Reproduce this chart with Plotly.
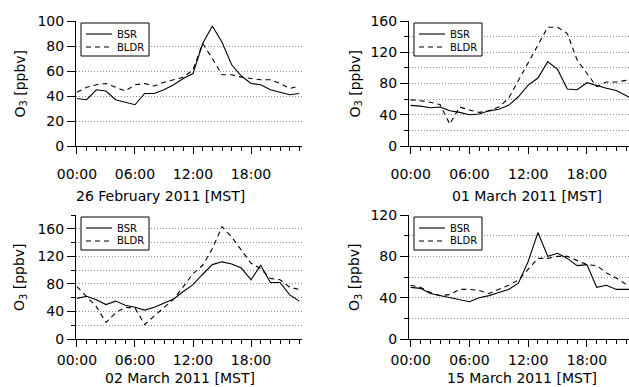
import plotly.graph_objects as go

hours = list(range(24))
tick_vals = [0, 6, 12, 18]
tick_text = ["00:00", "06:00", "12:00", "18:00"]

dates = ["26 February 2011 [MST]", "01 March 2011 [MST]",
         "02 March 2011 [MST]", "15 March 2011 [MST]"]
series_names = ["BSR", "BLDR"]

bsr_feb26 = [38, 37, 45, 44, 37, 35, 33, 42, 42, 45, 49, 54, 58, 82, 96, 83, 65, 56, 50, 49, 45, 43, 41, 42]
bldr_feb26 = [43, 47, 49, 50, 47, 44, 49, 50, 48, 51, 53, 55, 61, 82, 70, 57, 57, 55, 54, 53, 53, 50, 46, 48]

bsr_mar01 = [52, 51, 49, 50, 45, 43, 40, 41, 45, 47, 52, 63, 78, 87, 108, 98, 73, 72, 81, 77, 74, 71, 64, 58]
bldr_mar01 = [59, 58, 56, 53, 28, 50, 46, 43, 45, 50, 61, 84, 106, 129, 152, 152, 144, 110, 93, 76, 82, 82, 84, 86]

bsr_mar02 = [59, 62, 57, 50, 55, 49, 46, 42, 46, 52, 58, 69, 79, 94, 108, 112, 109, 103, 86, 107, 82, 82, 64, 55]
bldr_mar02 = [76, 62, 47, 24, 38, 46, 45, 21, 33, 46, 58, 76, 95, 107, 131, 163, 148, 129, 110, 102, 88, 86, 75, 72]

bsr_mar15 = [50, 49, 44, 42, 40, 38, 36, 40, 42, 45, 48, 54, 75, 103, 80, 83, 78, 71, 72, 50, 52, 48, 48, 48]
bldr_mar15 = [52, 50, 45, 42, 43, 48, 48, 47, 44, 48, 52, 57, 67, 78, 78, 80, 80, 76, 72, 71, 64, 59, 53, 50]

series = [(bsr_feb26, bldr_feb26), (bsr_mar01, bldr_mar01),
          (bsr_mar02, bldr_mar02), (bsr_mar15, bldr_mar15)]

W, H = 629, 387
FONT = "DejaVu Sans"
DASH = "5px,4px"
GRID = dict(gridcolor="#8c8c8c", griddash="1px,2px", gridwidth=1)

# panel geometry in pixels: (left, right, top, bottom)
panels = [(76, 302, 21, 146), (409, 629, 21, 146),
          (76, 302, 215, 339), (409, 629, 215, 339)]
xranges = [[-0.1, 23.27], [-0.17, 22.3], [-0.1, 23.27], [-0.17, 22.3]]
yranges = [[0, 100], [0, 160], [0, 180], [0, 120]]
ydticks = [20, 40, 40, 40]
legend_box = [(81, 149, 23, 56), (414, 482, 23, 56),
              (81, 149, 217, 250), (414, 482, 217, 250)]
ytitle_x = [20, 355, 20, 355]
xlabel_standoff = [8, 8, 1, 1]
xtitle_cx = [160, 527, 180, 522]
# (pixel y, anchor) of the date titles
xtitle_pos = [(196, "middle"), (196, "middle"), (387, "bottom"), (387, "bottom")]


def px(x):
    return x / W


def py(y):
    return 1 - y / H


fig = go.Figure()
annotations = []
shapes = []
for i, (bsr, bldr) in enumerate(series):
    n = i + 1
    xa = "x" if n == 1 else f"x{n}"
    ya = "y" if n == 1 else f"y{n}"
    fig.add_trace(go.Scatter(x=hours, y=bsr, mode="lines", name=series_names[0],
                             line=dict(color="black", width=1.1),
                             xaxis=xa, yaxis=ya, showlegend=False))
    fig.add_trace(go.Scatter(x=hours, y=bldr, mode="lines", name=series_names[1],
                             line=dict(color="black", width=1.1, dash=DASH),
                             xaxis=xa, yaxis=ya, showlegend=False))
    l, r, t, b = panels[i]
    xkey = "xaxis" if n == 1 else f"xaxis{n}"
    ykey = "yaxis" if n == 1 else f"yaxis{n}"
    fig.layout[xkey] = dict(
        domain=[px(l), px(r)], anchor=ya, range=xranges[i], automargin=False,
        tickmode="array", tickvals=tick_vals, ticktext=tick_text,
        ticks="outside", ticklen=7, tickcolor="black", tickwidth=1,
        ticklabelstandoff=xlabel_standoff[i],
        minor=dict(tickmode="array", tickvals=hours, ticks="outside",
                   ticklen=4, tickcolor="black", tickwidth=1, showgrid=False),
        showline=True, linecolor="black", linewidth=1,
        showgrid=False, zeroline=False,
        tickfont=dict(family=FONT, size=14, color="black"),
        fixedrange=True,
    )
    ydt = ydticks[i]
    yminor = dict(dtick=20, tick0=0, ticks="outside", ticklen=4,
                  tickcolor="black", showgrid=True, **GRID) if ydt == 40 else None
    fig.layout[ykey] = dict(
        domain=[py(b), py(t)], anchor=xa, range=yranges[i], automargin=False,
        tickmode="linear", tick0=0, dtick=ydt,
        ticks="outside", ticklen=8, tickcolor="black", tickwidth=1,
        minor=yminor,
        showline=True, linecolor="black", linewidth=1,
        showgrid=True, **GRID,
        zeroline=False,
        tickfont=dict(family=FONT, size=14, color="black"),
        fixedrange=True,
    )
    # legend box (drawn as a framed key)
    bl, br, bt, bb = legend_box[i]
    shapes.append(dict(type="rect", xref="paper", yref="paper",
                       x0=px(bl), x1=px(br), y0=py(bb), y1=py(bt),
                       line=dict(color="black", width=1), fillcolor="white",
                       layer="above"))
    for k, nm in enumerate(series_names):
        yy = bt + 11 + 13 * k
        shapes.append(dict(type="line", xref="paper", yref="paper",
                           x0=px(bl + 5), x1=px(bl + 31), y0=py(yy), y1=py(yy),
                           line=dict(color="black", width=1.1,
                                     dash="solid" if k == 0 else DASH),
                           layer="above"))
        annotations.append(dict(text=nm, showarrow=False, xref="paper", yref="paper",
                                x=px(bl + 34), y=py(yy), xanchor="left", yanchor="middle",
                                font=dict(family=FONT, size=10, color="black")))
    annotations.append(dict(
        text="O<sub>3</sub> [ppbv]", textangle=-90, showarrow=False,
        xref="paper", yref="paper", x=px(ytitle_x[i]), y=py((t + b) / 2),
        xanchor="center", yanchor="middle",
        font=dict(family=FONT, size=14, color="black")))
    ty, tanchor = xtitle_pos[i]
    annotations.append(dict(
        text=dates[i], showarrow=False, borderpad=0,
        xref="paper", yref="paper", x=px(xtitle_cx[i]), y=py(ty),
        xanchor="center", yanchor=tanchor,
        font=dict(family=FONT, size=14, color="black")))

fig.update_layout(
    width=W, height=H, margin=dict(l=0, r=0, t=0, b=0, autoexpand=False),
    paper_bgcolor="white", plot_bgcolor="white",
    showlegend=False, annotations=annotations, shapes=shapes,
)
fig.write_html("out.html")
